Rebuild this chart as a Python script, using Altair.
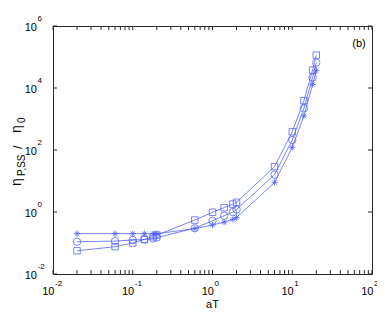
import altair as alt
import pandas as pd

# ---- data ----
aT = [0.02, 0.06, 0.1, 0.14, 0.18, 0.2, 0.6, 1.0, 1.4, 1.8, 2.0, 6, 10, 14, 18, 20]
eta_square = [0.056, 0.076, 0.10, 0.13, 0.16, 0.18, 0.55, 0.98, 1.38, 1.8, 2.05, 29, 390, 3900, 38000, 115000]
eta_circle = [0.11, 0.115, 0.125, 0.13, 0.14, 0.15, 0.30, 0.52, 0.76, 1.0, 1.2, 16, 210, 2200, 22000, 66000]
eta_star = [0.2, 0.2, 0.2, 0.2, 0.2, 0.2, 0.29, 0.38, 0.47, 0.58, 0.66, 9, 122, 1250, 13000, 36000]

x_major = [0.01, 0.1, 1, 10, 100]
x_exp = ["-2", "-1", "0", "1", "2"]
x_minor = [0.02, 0.03, 0.04, 0.05, 0.06, 0.07, 0.08, 0.09,
           0.2, 0.3, 0.4, 0.5, 0.6, 0.7, 0.8, 0.9,
           2, 3, 4, 5, 6, 7, 8, 9,
           20, 30, 40, 50, 60, 70, 80, 90]
y_major = [1e-2, 1, 1e2, 1e4, 1e6]
y_exp = ["-2", "0", "2", "4", "6"]

W, H = 319, 248
BLUE = "#4a5cff"
FRAME = "#2a2a2a"
FONT = "Liberation Sans"

rows = []
for name, vals in [("square", eta_square), ("circle", eta_circle), ("star", eta_star)]:
    for i, (a, e) in enumerate(zip(aT, vals)):
        rows.append({"series": name, "aT": a, "eta": e, "idx": i})
df = pd.DataFrame(rows)

xs = alt.Scale(type="log", domain=[0.01, 100])
ys = alt.Scale(type="log", domain=[0.01, 1e6])

base = alt.Chart(df)
X = alt.X("aT:Q", scale=xs, axis=None)
Y = alt.Y("eta:Q", scale=ys, axis=None)

lines = base.mark_line(color=BLUE, strokeWidth=0.75).encode(
    x=X, y=Y, detail="series:N", order="idx:Q")

STAR = "M0,-1L0,1M-1,0L1,0M-0.7,-0.7L0.7,0.7M-0.7,0.7L0.7,-0.7"
sq = base.transform_filter(alt.datum.series == "square").mark_point(
    shape="square", filled=False, size=42, color=BLUE, strokeWidth=0.75, opacity=1).encode(x=X, y=Y)
ci = base.transform_filter(alt.datum.series == "circle").mark_point(
    shape="circle", filled=False, size=55, color=BLUE, strokeWidth=0.75, opacity=1).encode(x=X, y=Y)
st = base.transform_filter(alt.datum.series == "star").mark_point(
    shape=STAR, filled=False, size=40, color=BLUE, strokeWidth=0.75, opacity=1).encode(x=X, y=Y)

xt = pd.DataFrame({"v": x_major + x_minor})
xmaj = pd.DataFrame({"v": x_major, "e": x_exp})
ymaj = pd.DataFrame({"v": y_major, "e": y_exp})

TL = 4
xb = alt.Chart(xt).mark_rule(color=FRAME, strokeWidth=1).encode(
    x=alt.X("v:Q", scale=xs, axis=None), y=alt.value(H), y2=alt.value(H - TL))
xtp = alt.Chart(xt).mark_rule(color=FRAME, strokeWidth=1).encode(
    x=alt.X("v:Q", scale=xs, axis=None), y=alt.value(0), y2=alt.value(TL))
yl = alt.Chart(ymaj).mark_rule(color=FRAME, strokeWidth=1).encode(
    y=alt.Y("v:Q", scale=ys, axis=None), x=alt.value(0), x2=alt.value(TL))
yr = alt.Chart(ymaj).mark_rule(color=FRAME, strokeWidth=1).encode(
    y=alt.Y("v:Q", scale=ys, axis=None), x=alt.value(W - TL), x2=alt.value(W))

FS = 11
xlab = alt.Chart(xmaj).mark_text(align="right", baseline="alphabetic", fontSize=FS, font=FONT,
                                  dx=1.5, color="black").encode(
    x=alt.X("v:Q", scale=xs, axis=None), y=alt.value(H + 21), text=alt.value("10"))
xexp = alt.Chart(xmaj).mark_text(align="left", baseline="alphabetic", fontSize=8, font=FONT,
                                  dx=2, color="black").encode(
    x=alt.X("v:Q", scale=xs, axis=None), y=alt.value(H + 12), text="e:N")
ylab = alt.Chart(ymaj).mark_text(align="right", baseline="alphabetic", fontSize=FS, font=FONT,
                                  dy=5, color="black").encode(
    y=alt.Y("v:Q", scale=ys, axis=None), x=alt.value(-16), text=alt.value("10"))
yexp = alt.Chart(ymaj).mark_text(align="left", baseline="alphabetic", fontSize=8, font=FONT,
                                  dy=-5, color="black").encode(
    y=alt.Y("v:Q", scale=ys, axis=None), x=alt.value(-15.5), text="e:N")

def txt(s, x, y, size, angle=0, align="left", baseline="alphabetic"):
    return alt.Chart(pd.DataFrame({"t": [s]})).mark_text(
        align=align, baseline=baseline, fontSize=size, font=FONT, angle=angle, color="black"
    ).encode(x=alt.value(x), y=alt.value(y), text="t:N")

xtitle = txt("aT", W / 2, H + 34, 11, align="center")
blabel = txt("(b)", 306, 18, 11, align="center", baseline="middle")
# rotated y title: eta_{P,SS} / eta_0
t1 = txt("\u03b7", -32, 160, 14, angle=270)
t2 = txt("P,SS", -28, 150, 10, angle=270)
t3 = txt("/", -31, 123, 13, angle=270)
t4 = txt("\u03b7", -32, 107, 14, angle=270)
t5 = txt("0", -28, 97, 10, angle=270)

chart = alt.layer(
    lines, sq, ci, st, xb, xtp, yl, yr, xlab, xexp, ylab, yexp,
    xtitle, blabel, t1, t2, t3, t4, t5
).properties(
    width=W, height=H,
    autosize=alt.AutoSizeParams(type="none"),
    padding={"left": 45, "top": 18, "right": 5, "bottom": 38},
    background="white",
).configure_view(stroke=FRAME, strokeWidth=1)

chart.save("out.html", embed_options={"renderer": "svg", "actions": False})
